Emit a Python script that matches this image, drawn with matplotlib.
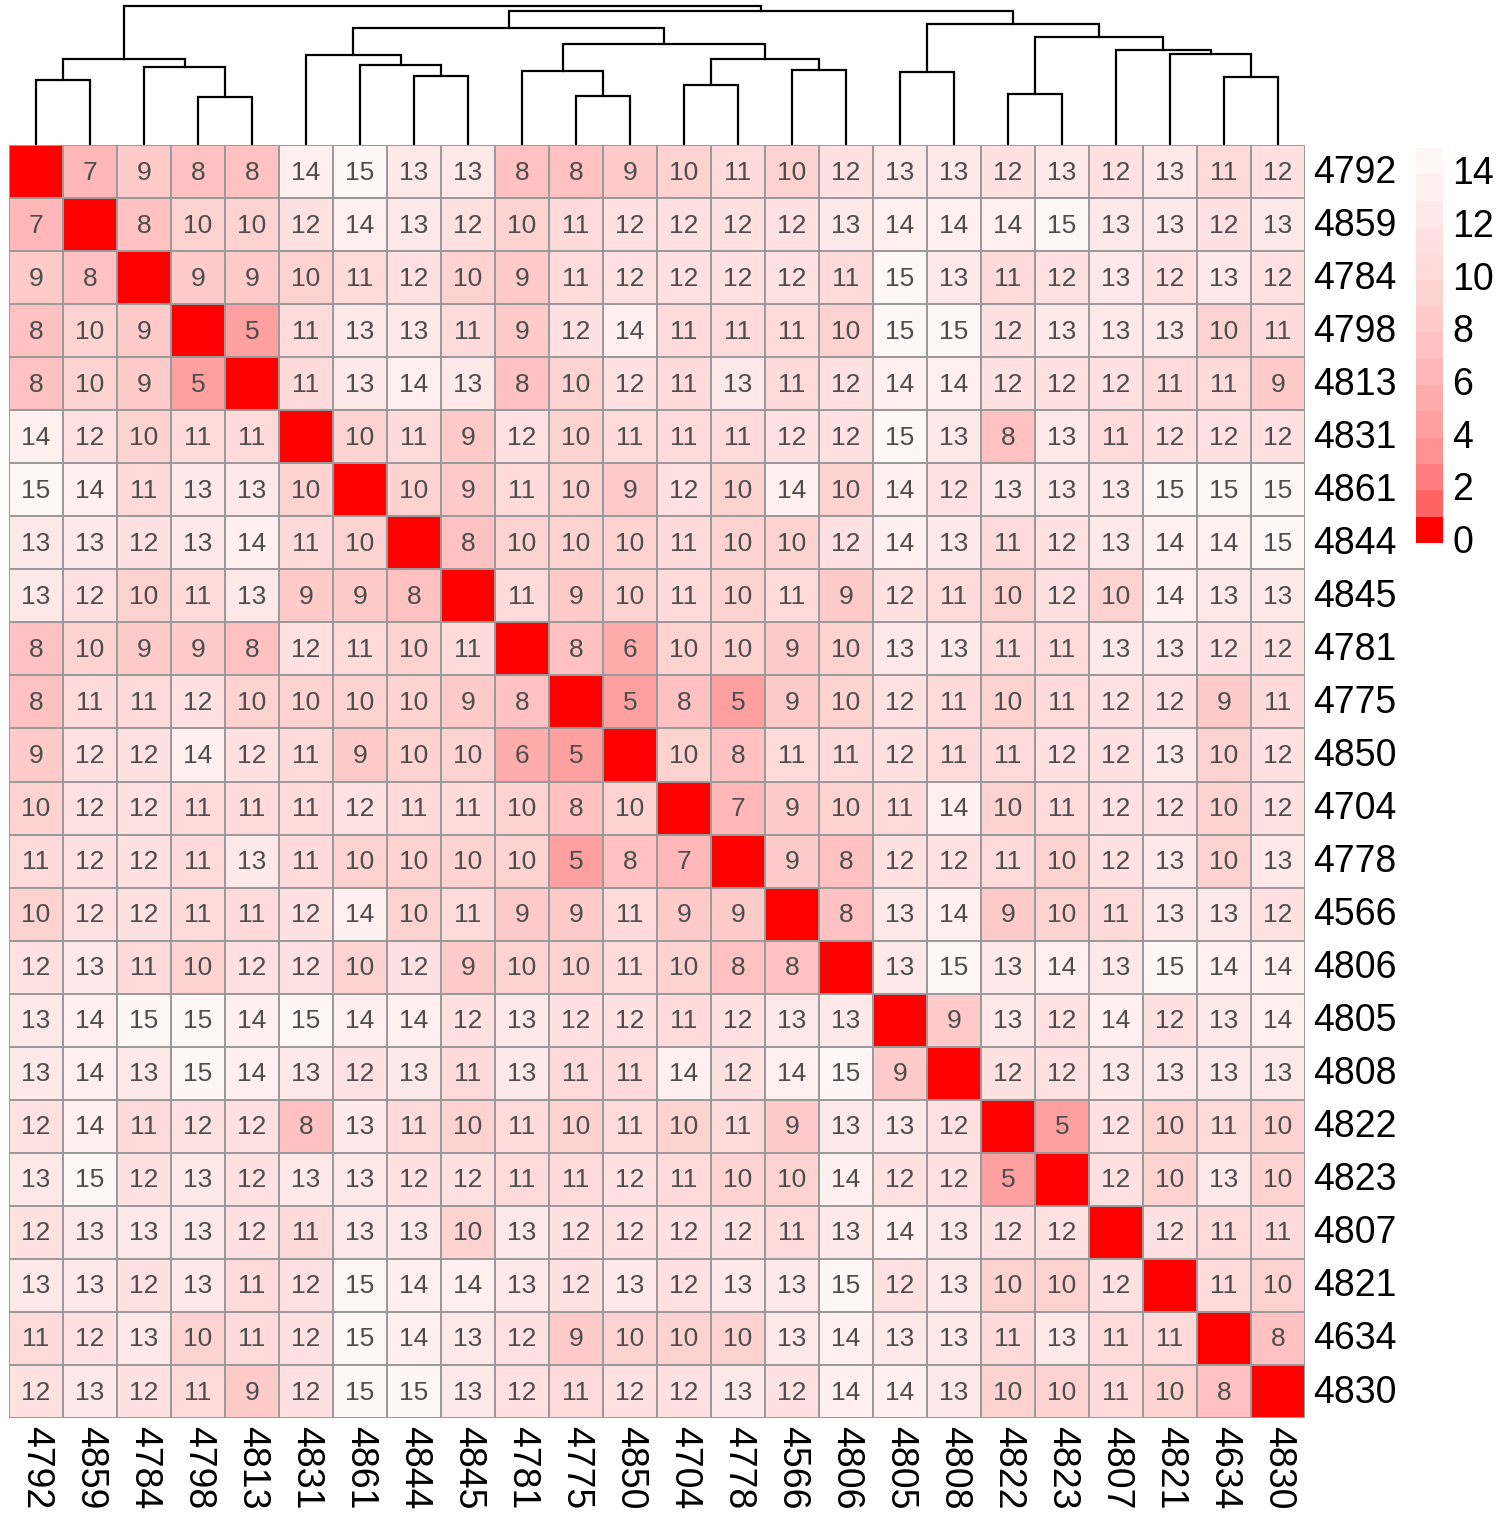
import matplotlib
matplotlib.use("Agg")
import matplotlib.pyplot as plt
import numpy as np
from matplotlib.colors import ListedColormap, BoundaryNorm

labels = ["4792", "4859", "4784", "4798", "4813", "4831", "4861", "4844",
          "4845", "4781", "4775", "4850", "4704", "4778", "4566", "4806",
          "4805", "4808", "4822", "4823", "4807", "4821", "4634", "4830"]

dist = np.array([
    [0, 7, 9, 8, 8, 14, 15, 13, 13, 8, 8, 9, 10, 11, 10, 12, 13, 13, 12, 13, 12, 13, 11, 12],
    [7, 0, 8, 10, 10, 12, 14, 13, 12, 10, 11, 12, 12, 12, 12, 13, 14, 14, 14, 15, 13, 13, 12, 13],
    [9, 8, 0, 9, 9, 10, 11, 12, 10, 9, 11, 12, 12, 12, 12, 11, 15, 13, 11, 12, 13, 12, 13, 12],
    [8, 10, 9, 0, 5, 11, 13, 13, 11, 9, 12, 14, 11, 11, 11, 10, 15, 15, 12, 13, 13, 13, 10, 11],
    [8, 10, 9, 5, 0, 11, 13, 14, 13, 8, 10, 12, 11, 13, 11, 12, 14, 14, 12, 12, 12, 11, 11, 9],
    [14, 12, 10, 11, 11, 0, 10, 11, 9, 12, 10, 11, 11, 11, 12, 12, 15, 13, 8, 13, 11, 12, 12, 12],
    [15, 14, 11, 13, 13, 10, 0, 10, 9, 11, 10, 9, 12, 10, 14, 10, 14, 12, 13, 13, 13, 15, 15, 15],
    [13, 13, 12, 13, 14, 11, 10, 0, 8, 10, 10, 10, 11, 10, 10, 12, 14, 13, 11, 12, 13, 14, 14, 15],
    [13, 12, 10, 11, 13, 9, 9, 8, 0, 11, 9, 10, 11, 10, 11, 9, 12, 11, 10, 12, 10, 14, 13, 13],
    [8, 10, 9, 9, 8, 12, 11, 10, 11, 0, 8, 6, 10, 10, 9, 10, 13, 13, 11, 11, 13, 13, 12, 12],
    [8, 11, 11, 12, 10, 10, 10, 10, 9, 8, 0, 5, 8, 5, 9, 10, 12, 11, 10, 11, 12, 12, 9, 11],
    [9, 12, 12, 14, 12, 11, 9, 10, 10, 6, 5, 0, 10, 8, 11, 11, 12, 11, 11, 12, 12, 13, 10, 12],
    [10, 12, 12, 11, 11, 11, 12, 11, 11, 10, 8, 10, 0, 7, 9, 10, 11, 14, 10, 11, 12, 12, 10, 12],
    [11, 12, 12, 11, 13, 11, 10, 10, 10, 10, 5, 8, 7, 0, 9, 8, 12, 12, 11, 10, 12, 13, 10, 13],
    [10, 12, 12, 11, 11, 12, 14, 10, 11, 9, 9, 11, 9, 9, 0, 8, 13, 14, 9, 10, 11, 13, 13, 12],
    [12, 13, 11, 10, 12, 12, 10, 12, 9, 10, 10, 11, 10, 8, 8, 0, 13, 15, 13, 14, 13, 15, 14, 14],
    [13, 14, 15, 15, 14, 15, 14, 14, 12, 13, 12, 12, 11, 12, 13, 13, 0, 9, 13, 12, 14, 12, 13, 14],
    [13, 14, 13, 15, 14, 13, 12, 13, 11, 13, 11, 11, 14, 12, 14, 15, 9, 0, 12, 12, 13, 13, 13, 13],
    [12, 14, 11, 12, 12, 8, 13, 11, 10, 11, 10, 11, 10, 11, 9, 13, 13, 12, 0, 5, 12, 10, 11, 10],
    [13, 15, 12, 13, 12, 13, 13, 12, 12, 11, 11, 12, 11, 10, 10, 14, 12, 12, 5, 0, 12, 10, 13, 10],
    [12, 13, 13, 13, 12, 11, 13, 13, 10, 13, 12, 12, 12, 12, 11, 13, 14, 13, 12, 12, 0, 12, 11, 11],
    [13, 13, 12, 13, 11, 12, 15, 14, 14, 13, 12, 13, 12, 13, 13, 15, 12, 13, 10, 10, 12, 0, 11, 10],
    [11, 12, 13, 10, 11, 12, 15, 14, 13, 12, 9, 10, 10, 10, 13, 14, 13, 13, 11, 13, 11, 11, 0, 8],
    [12, 13, 12, 11, 9, 12, 15, 15, 13, 12, 11, 12, 12, 13, 12, 14, 14, 13, 10, 10, 11, 10, 8, 0],
])

# column dendrogram merges: (left node, right node, height); nodes >= 24 are earlier merges
merges = [
    (0, 1, 65), (3, 4, 48), (2, 25, 78), (24, 26, 86),
    (7, 8, 69), (6, 28, 80), (5, 29, 90),
    (10, 11, 49), (9, 31, 74), (12, 13, 60), (14, 15, 75), (33, 34, 86),
    (32, 35, 101), (30, 36, 117),
    (16, 17, 73), (18, 19, 51), (22, 23, 68), (21, 40, 91), (20, 41, 95),
    (39, 42, 108), (38, 43, 121), (37, 44, 134), (27, 45, 139),
]

legend_ticks = [0, 2, 4, 6, 8, 10, 12, 14]

W, H = 1502, 1523
n = len(labels)

# palette: pure red for the lowest bin, then pink steps up to near white
gb = [0, 100, 125, 145, 160, 172, 183, 193, 202, 210, 218, 225, 232, 239, 246]
colors = [(1.0, v / 255, v / 255) for v in gb]
cmap = ListedColormap(colors)
bounds = [-0.5] + [k + 0.5 for k in range(1, 16)]
norm = BoundaryNorm(bounds, cmap.N)

fig = plt.figure(figsize=(W / 100, H / 100), dpi=100)
plt.rcParams['font.family'] = ['Liberation Sans', 'DejaVu Sans']

left, right, top, bottom = 9, 1305, 145, 1418
ax = fig.add_axes([left / W, (H - bottom) / H, (right - left) / W, (bottom - top) / H])
ax.pcolormesh(dist, cmap=cmap, norm=norm, edgecolors='#9a9a9a', linewidth=1.2)
ax.set_xlim(0, n)
ax.set_ylim(n, 0)
for i in range(n):
    for j in range(n):
        if i != j:
            ax.text(j + 0.5, i + 0.52, str(dist[i, j]), ha='center', va='center',
                    fontsize=19, color='#4d4d4d')
ax.set_xticks([]); ax.set_yticks([])
for s in ax.spines.values():
    s.set_visible(False)

for i, lab in enumerate(labels):
    ax.text(n + 0.15, i + 0.52, lab, ha='left', va='center', fontsize=27, color='black')
    ax.text(i + 0.5, n + 0.15, lab, ha='center', va='top', rotation=270,
            fontsize=27, color='black')

# dendrogram
dax = fig.add_axes([left / W, (H - top) / H, (right - left) / W, top / H])
xs = {i: i + 0.5 for i in range(n)}
hs = {i: 0 for i in range(n)}
for k, (a, b, h) in enumerate(merges):
    node = n + k
    dax.plot([xs[a], xs[a], xs[b], xs[b]], [hs[a], h, h, hs[b]], color='black',
             lw=1.6, solid_joinstyle='miter')
    xs[node] = (xs[a] + xs[b]) / 2
    hs[node] = h
dax.set_xlim(0, n)
dax.set_ylim(0, top)
dax.axis('off')

# legend colour bar
cax = fig.add_axes([1416 / W, (H - 543) / H, 27 / W, (543 - 148) / H])
for k in range(15):
    cax.fill_between([0, 1], k, k + 1, color=colors[k], lw=0)
cax.set_xlim(0, 1)
cax.set_ylim(0, 15)
cax.axis('off')
for t in legend_ticks:
    cax.text(1.35, t, str(t), ha='left', va='center', fontsize=27, color='black')

fig.savefig("out.png", dpi=100)
